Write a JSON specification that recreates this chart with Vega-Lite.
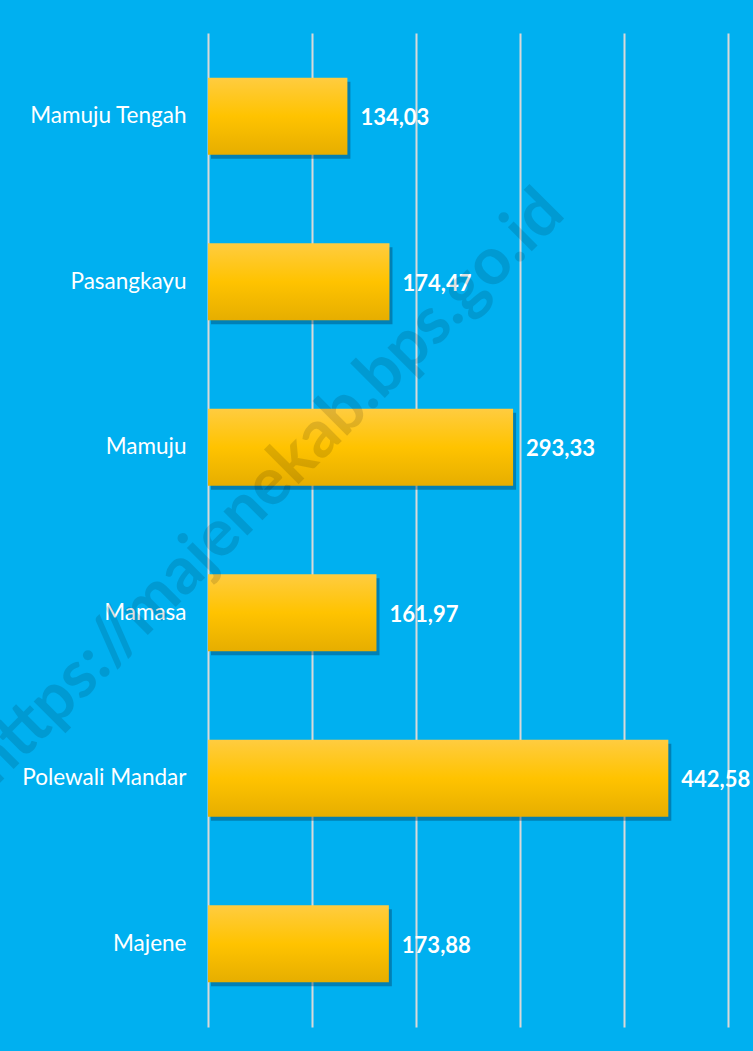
{
  "$schema": "https://vega.github.io/schema/vega-lite/v6.json",
  "width": 545,
  "height": 994,
  "autosize": "none",
  "padding": {"left": 208, "top": 33, "right": 0, "bottom": 24},
  "background": "#00B0F0",
  "config": {
    "locale": {"number": {"decimal": ",", "thousands": ".", "grouping": [3], "currency": ["", ""]}},
    "view": {"stroke": null}
  },
  "data": {
    "values": [
      {"kabupaten": "Mamuju Tengah", "nilai": 134.03},
      {"kabupaten": "Pasangkayu", "nilai": 174.47},
      {"kabupaten": "Mamuju", "nilai": 293.33},
      {"kabupaten": "Mamasa", "nilai": 161.97},
      {"kabupaten": "Polewali Mandar", "nilai": 442.58},
      {"kabupaten": "Majene", "nilai": 173.88}
    ]
  },
  "encoding": {
    "y": {
      "field": "kabupaten",
      "type": "nominal",
      "sort": null,
      "scale": {"paddingInner": 0.535, "paddingOuter": 0.27},
      "axis": {
        "title": null,
        "domain": false,
        "ticks": false,
        "labelFont": "Lato",
        "labelFontSize": 22.5,
        "labelColor": "#FFFFFF",
        "labelPadding": 22,
        "labelLimit": 300
      }
    },
    "x": {
      "field": "nilai",
      "type": "quantitative",
      "scale": {"domain": [0, 524], "nice": false},
      "axis": {
        "title": null,
        "domain": false,
        "ticks": false,
        "labels": false,
        "grid": true,
        "gridColor": "#D9D9D9",
        "gridWidth": 2,
        "values": [0, 100, 200, 300, 400, 500]
      }
    }
  },
  "layer": [
    {
      "mark": {"type": "bar", "color": "#003a5c", "opacity": 0.4, "xOffset": 3, "yOffset": 4}
    },
    {
      "mark": {
        "type": "bar",
        "color": {
          "gradient": "linear",
          "x1": 0, "y1": 0, "x2": 0, "y2": 1,
          "stops": [
            {"offset": 0, "color": "#FFCC40"},
            {"offset": 0.5, "color": "#FFC300"},
            {"offset": 1, "color": "#E6AE00"}
          ]
        }
      }
    },
    {
      "mark": {
        "type": "text",
        "align": "left",
        "baseline": "middle",
        "dx": 13,
        "dy": 2,
        "font": "Lato",
        "fontSize": 22,
        "fontWeight": "bold",
        "color": "#FFFFFF"
      },
      "encoding": {"text": {"field": "nilai", "type": "quantitative", "format": ".2f"}}
    },
    {
      "transform": [{"filter": "datum.kabupaten === 'Mamuju'"}],
      "mark": {
        "type": "text",
        "angle": -45,
        "align": "center",
        "baseline": "middle",
        "font": "Lato",
        "fontSize": 66,
        "fontWeight": "bold",
        "color": "#000000",
        "opacity": 0.12,
        "yOffset": 40,
        "clip": false
      },
      "encoding": {
        "x": {"datum": 57},
        "text": {"value": "https://majenekab.bps.go.id"}
      }
    }
  ]
}
